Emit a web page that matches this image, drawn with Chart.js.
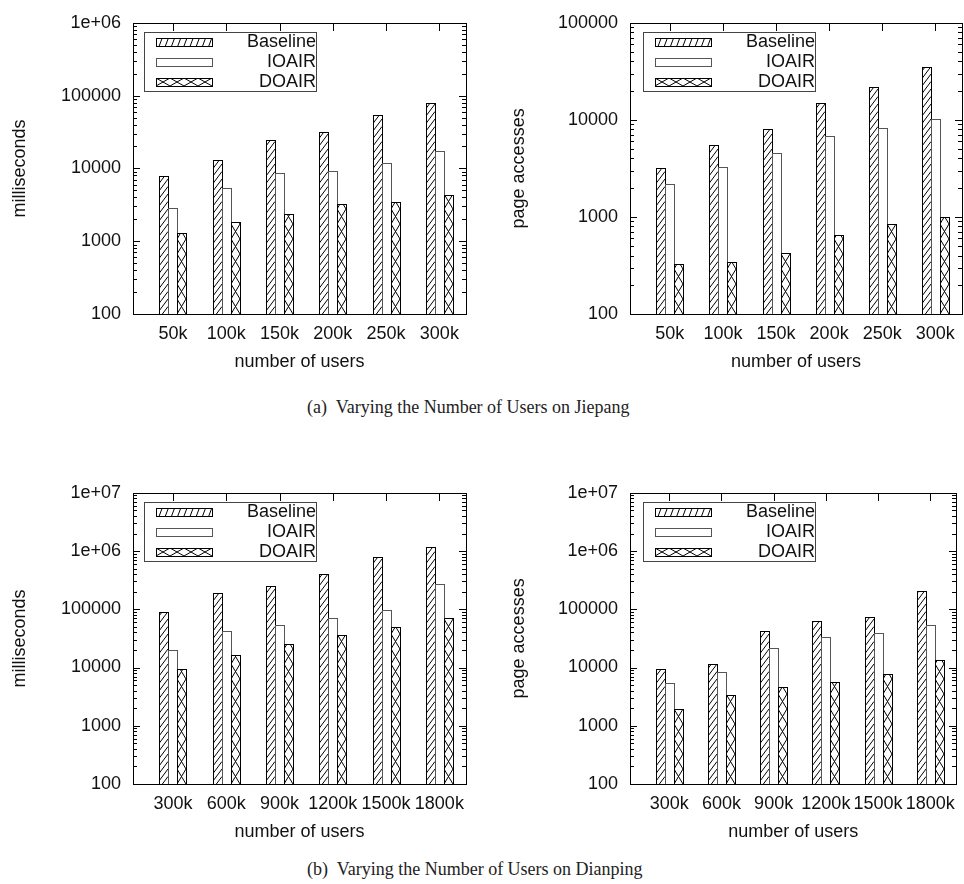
<!DOCTYPE html>
<html>
<head>
<meta charset="utf-8">
<script src="https://cdn.jsdelivr.net/npm/chart.js@4.4.1/dist/chart.umd.min.js"></script>
<style>
  html, body { margin: 0; padding: 0; background: #fff; }
  #page { position: relative; width: 964px; height: 884px; background: #fff; overflow: hidden; }
  #page canvas { position: absolute; }
  .caption {
    position: absolute; left: 307px; text-align: left;
    font-family: "Liberation Serif", "Times New Roman", serif; font-size: 18px; color: #222;
    white-space: pre; line-height: 20px;
  }
</style>
</head>
<body>
<div id="page">
  <canvas id="jiepangTime" width="482" height="380" style="left:0;top:0"></canvas>
  <canvas id="jiepangPages" width="482" height="380" style="left:482px;top:0"></canvas>
  <div class="caption" style="top:397px">(a)  Varying the Number of Users on Jiepang</div>
  <canvas id="dianpingTime" width="482" height="380" style="left:0;top:470px"></canvas>
  <canvas id="dianpingPages" width="482" height="380" style="left:482px;top:470px"></canvas>
  <div class="caption" style="top:859px">(b)  Varying the Number of Users on Dianping</div>
</div>
<script>
// ---- data ----------------------------------------------------------------
const seriesNames = ['Baseline', 'IOAIR', 'DOAIR'];

const jiepangUsers  = ['50k', '100k', '150k', '200k', '250k', '300k'];
const dianpingUsers = ['300k', '600k', '900k', '1200k', '1500k', '1800k'];

// response time (milliseconds), Jiepang
const jiepangTimeBaseline = [7900, 13000, 24700, 31600, 54000, 79000];
const jiepangTimeIOAIR    = [2900, 5450, 8650, 9200, 11900, 17200];
const jiepangTimeDOAIR    = [1300, 1850, 2400, 3230, 3430, 4260];

// page accesses, Jiepang
const jiepangPagesBaseline = [3200, 5450, 8000, 14800, 21900, 34800];
const jiepangPagesIOAIR    = [2180, 3250, 4570, 6800, 8150, 10100];
const jiepangPagesDOAIR    = [331, 346, 430, 648, 855, 1005];

// response time (milliseconds), Dianping
const dianpingTimeBaseline = [91000, 187000, 248000, 404000, 778000, 1160000];
const dianpingTimeIOAIR    = [20000, 41700, 53200, 71500, 97200, 275000];
const dianpingTimeDOAIR    = [9300, 16500, 25200, 35700, 50500, 69700];

// page accesses, Dianping
const dianpingPagesBaseline = [9400, 11500, 42300, 62100, 72500, 205000];
const dianpingPagesIOAIR    = [5400, 8460, 21900, 33100, 38600, 53900];
const dianpingPagesDOAIR    = [1930, 3310, 4570, 5750, 7730, 13300];

// y tick labels (log axes)
const ticksTo1e6 = ['100', '1000', '10000', '100000', '1e+06'];
const ticksTo1e5 = ['100', '1000', '10000', '100000'];
const ticksTo1e7 = ['100', '1000', '10000', '100000', '1e+06', '1e+07'];

// ---- styling -------------------------------------------------------------
const FONT = { family: '"Liberation Sans", Arial, Helvetica, sans-serif', size: 18 };
const TEXT = '#111';
const seriesStyle = [
  { pattern: 'diag',  outline: '#000' },
  { pattern: 'none',  outline: '#555' },
  { pattern: 'cross', outline: '#000' }
];

// hatch fill inside a bar rectangle
function hatchBar(ctx, kind, l, t, r, b) {
  if (kind === 'none') return;
  ctx.save();
  ctx.beginPath(); ctx.rect(l, t, r - l, b - t); ctx.clip();
  ctx.beginPath();
  if (kind === 'diag') {
    const rise = 12, step = 7.5;
    for (let y = b + rise; y > t - step; y -= step) { ctx.moveTo(l, y); ctx.lineTo(r, y - rise); }
  } else {
    const cell = 15;
    for (let y = b; y > t - cell; y -= cell) {
      ctx.moveTo(l, y); ctx.lineTo(r, y - cell);
      ctx.moveTo(l, y - cell); ctx.lineTo(r, y);
    }
  }
  ctx.strokeStyle = '#000'; ctx.lineWidth = 1; ctx.stroke();
  ctx.restore();
}

// hatch fill inside a legend sample rectangle
function hatchSample(ctx, kind, l, t, r, b) {
  if (kind === 'none') return;
  ctx.save();
  ctx.beginPath(); ctx.rect(l, t, r - l, b - t); ctx.clip();
  ctx.beginPath();
  if (kind === 'diag') {
    const run = 3, step = 6.2;
    for (let x = l - run; x < r + step; x += step) { ctx.moveTo(x, b); ctx.lineTo(x + run, t); }
  } else {
    const cell = 14;
    for (let x = l; x < r; x += cell) {
      ctx.moveTo(x, t); ctx.lineTo(x + cell, b);
      ctx.moveTo(x, b); ctx.lineTo(x + cell, t);
    }
  }
  ctx.strokeStyle = '#000'; ctx.lineWidth = 1; ctx.stroke();
  ctx.restore();
}

// patterns, plot frame, inward ticks and the boxed legend
const gnuplotLook = {
  id: 'gnuplotLook',
  afterDatasetsDraw(chart) {
    const ctx = chart.ctx;
    chart.data.datasets.forEach((ds, di) => {
      const st = seriesStyle[di];
      chart.getDatasetMeta(di).data.forEach(el => {
        const p = el.getProps(['x', 'y', 'base', 'width'], true);
        const l = Math.round(p.x - p.width / 2), r = Math.round(p.x + p.width / 2);
        const t = Math.round(p.y), b = Math.round(p.base);
        hatchBar(ctx, st.pattern, l, t, r, b);
        ctx.save();
        ctx.strokeStyle = st.outline; ctx.lineWidth = 1;
        ctx.strokeRect(l + 0.5, t + 0.5, r - l, b - t);
        ctx.restore();
      });
    });
  },
  afterDraw(chart, args, opts) {
    const ctx = chart.ctx;
    const a = chart.chartArea;
    const xs = chart.scales.x, ys = chart.scales.y;
    const L = Math.round(a.left), R = Math.round(a.right), T = Math.round(a.top), B = Math.round(a.bottom);
    ctx.save();
    ctx.strokeStyle = '#000'; ctx.lineWidth = 1;
    ctx.beginPath();
    // y ticks (major at decades, minor in between), on both sides
    const lo = Math.round(Math.log10(ys.min)), hi = Math.round(Math.log10(ys.max));
    for (let e = lo; e <= hi; e++) {
      for (let k = 1; k <= 9; k++) {
        const v = k * Math.pow(10, e);
        if (v < ys.min || v > ys.max) continue;
        const y = Math.round(ys.getPixelForValue(v)) + 0.5;
        const len = k === 1 ? 7 : 4;
        ctx.moveTo(L, y); ctx.lineTo(L + len, y);
        ctx.moveTo(R, y); ctx.lineTo(R - len, y);
      }
    }
    // mirrored x ticks along the top edge
    xs.ticks.forEach(tk => {
      const x = Math.round(xs.getPixelForValue(tk.value)) + 0.5;
      ctx.moveTo(x, T); ctx.lineTo(x, T + 8);
    });
    ctx.stroke();
    ctx.strokeRect(L + 0.5, T + 0.5, R - L, B - T);
    ctx.restore();

    // legend box
    const bx = L + opts.offsetX, by = T + 9, bw = 172, bh = 59;
    ctx.save();
    ctx.fillStyle = '#fff';
    ctx.fillRect(bx, by, bw, bh);
    ctx.strokeStyle = '#444'; ctx.lineWidth = 1;
    ctx.strokeRect(bx + 0.5, by + 0.5, bw, bh);
    ctx.font = FONT.size + 'px ' + FONT.family;
    ctx.textAlign = 'right'; ctx.textBaseline = 'middle'; ctx.fillStyle = TEXT;
    chart.data.datasets.forEach((ds, i) => {
      const cy = by + 9.5 + i * 20;
      const sl = bx + 12, sr = sl + 56, st = Math.round(cy - 4), sb = st + 8;
      ctx.fillStyle = '#fff'; ctx.fillRect(sl, st, sr - sl, sb - st);
      hatchSample(ctx, seriesStyle[i].pattern, sl, st, sr, sb);
      ctx.strokeStyle = i === 1 ? '#555' : '#000';
      ctx.strokeRect(sl + 0.5, st + 0.5, sr - sl, sb - st);
      ctx.fillStyle = TEXT;
      ctx.fillText(ds.label, bx + bw, cy + 1);
    });
    ctx.restore();
  }
};

function makeChart(id, users, values, yTicks, yTitle, side) {
  const yMin = Number(yTicks[0]), yMax = Number(yTicks[yTicks.length - 1]);
  const yWidth = side === 'left' ? 133 : 148;
  const rightPad = side === 'left' ? 16 : 2;
  const yTitlePad = side === 'left' ? 9 : 26;
  return new Chart(document.getElementById(id), {
    type: 'bar',
    data: {
      datasets: values.map((vals, i) => ({
        label: seriesNames[i],
        data: vals.map((v, k) => ({ x: k, y: v })),
        backgroundColor: '#fff',
        borderWidth: 0,
        barThickness: 9
      }))
    },
    options: {
      responsive: false,
      animation: false,
      devicePixelRatio: 1,
      layout: { padding: { left: 0, top: 15, right: rightPad, bottom: 0 } },
      plugins: {
        legend: { display: false },
        tooltip: { enabled: false },
        gnuplotLook: { offsetX: side === 'left' ? 11 : 13 }
      },
      scales: {
        x: {
          type: 'linear', min: -0.75, max: 5.5, offset: false,
          grid: { display: false, drawTicks: false }, border: { display: false },
          afterBuildTicks: s => { s.ticks = users.map((_, i) => ({ value: i })); },
          afterFit: s => { s.height = 66; },
          ticks: {
            autoSkip: false, maxRotation: 0, minRotation: 0, padding: 9,
            color: TEXT, font: FONT,
            callback: v => users[v]
          },
          title: { display: true, text: 'number of users', color: TEXT, font: FONT, padding: { top: 0, bottom: 7 } }
        },
        y: {
          type: 'logarithmic', min: yMin, max: yMax,
          grid: { display: false, drawTicks: false }, border: { display: false },
          afterBuildTicks: s => { s.ticks = yTicks.map(t => ({ value: Number(t) })); },
          afterFit: s => { s.width = yWidth; },
          ticks: {
            padding: 12, color: TEXT, font: FONT,
            callback: v => yTicks.find(t => Number(t) === v) || ''
          },
          title: { display: true, text: yTitle, color: TEXT, font: FONT, padding: { top: yTitlePad, bottom: 0 } }
        }
      }
    },
    plugins: [gnuplotLook]
  });
}

makeChart('jiepangTime', jiepangUsers,
  [jiepangTimeBaseline, jiepangTimeIOAIR, jiepangTimeDOAIR], ticksTo1e6, 'milliseconds', 'left');
makeChart('jiepangPages', jiepangUsers,
  [jiepangPagesBaseline, jiepangPagesIOAIR, jiepangPagesDOAIR], ticksTo1e5, 'page accesses', 'right');
makeChart('dianpingTime', dianpingUsers,
  [dianpingTimeBaseline, dianpingTimeIOAIR, dianpingTimeDOAIR], ticksTo1e7, 'milliseconds', 'left');
makeChart('dianpingPages', dianpingUsers,
  [dianpingPagesBaseline, dianpingPagesIOAIR, dianpingPagesDOAIR], ticksTo1e7, 'page accesses', 'right');
</script>
</body>
</html>
